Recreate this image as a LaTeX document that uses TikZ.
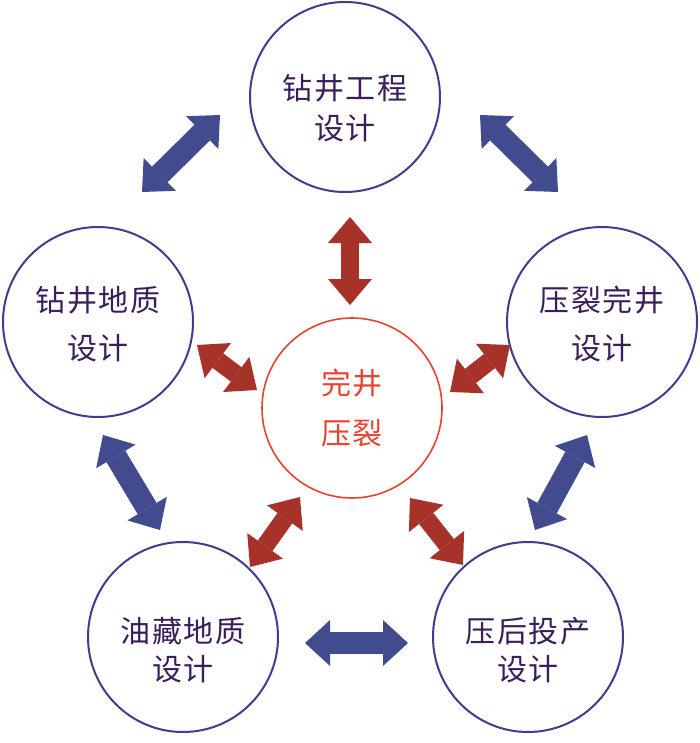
\documentclass[tikz,border=0pt]{standalone}
\usepackage{fontspec}
\newfontfamily\cjk[LetterSpace=6]{Noto Sans CJK SC}
\usetikzlibrary{arrows.meta}

\definecolor{ringblue}{RGB}{62,62,142}
\definecolor{linkblue}{RGB}{67,75,143}
\definecolor{planpurple}{RGB}{58,30,92}
\definecolor{linkred}{RGB}{166,50,42}
\definecolor{ringred}{RGB}{232,67,46}

\begin{document}
\begin{tikzpicture}[x=1pt, y=-1pt,
      plan/.style={circle, draw=ringblue, line width=2pt, minimum size=190pt,
            inner sep=0pt},
      plantext/.style={align=center, text=planpurple, inner sep=0pt,
            font=\cjk\fontsize{30}{#1}\selectfont},
      core/.style={circle, draw=ringred, line width=1.6pt, minimum size=180pt,
            inner sep=0pt, align=center, text=ringred,
            font=\cjk\fontsize{30}{50}\selectfont},
      bluelink/.style={linkblue, line width=22pt,
            {Triangle[width=46pt,length=25pt,line width=0pt]}-{Triangle[width=46pt,length=25pt,line width=0pt]}},
      redlink/.style={linkred, line width=18pt,
            {Triangle[width=44pt,length=26pt,line width=0pt]}-{Triangle[width=44pt,length=26pt,line width=0pt]}}
]
      \useasboundingbox (0,0) rectangle (700,743);

      % circles
      \node[plan, label={[plantext=40, yshift=-11pt]center:钻井工程\\设计}] (drill) at (345,97) {};
      \node[plan, label={[plantext=48, yshift=-2pt]center:钻井地质\\设计}] (geo) at (98,322) {};
      \node[plan, label={[plantext=48, yshift=-2pt]center:压裂完井\\设计}] (frac) at (602,322) {};
      \node[plan, label={[plantext=38, yshift=-13pt]center:油藏地质\\设计}] (res) at (183,637) {};
      \node[plan, label={[plantext=38, yshift=-13pt]center:压后投产\\设计}] (prod) at (528,637) {};
      \node[core] (center) at (352,408) {完井\\压裂};

      % arrow ends
      \coordinate (a1) at (142,192);  \coordinate (a2) at (220,115);
      \coordinate (b1) at (480,115);  \coordinate (b2) at (558,192);
      \coordinate (c1) at (103,435);  \coordinate (c2) at (160,530);
      \coordinate (d1) at (587,435);  \coordinate (d2) at (535,530);
      \coordinate (e1) at (305,643);  \coordinate (e2) at (408,643);

      \coordinate (f1) at (350,217);  \coordinate (f2) at (350,305);
      \coordinate (g1) at (197,345);  \coordinate (g2) at (257,390);
      \coordinate (h1) at (450,392);  \coordinate (h2) at (510,345);
      \coordinate (i1) at (250,567);  \coordinate (i2) at (300,497);
      \coordinate (j1) at (410,498);  \coordinate (j2) at (463,565);

      \draw[bluelink] (a1) -- (a2);
      \draw[bluelink] (b1) -- (b2);
      \draw[bluelink] (c1) -- (c2);
      \draw[bluelink] (d1) -- (d2);
      \draw[bluelink] (e1) -- (e2);

      \draw[redlink] (f1) -- (f2);
      \draw[redlink] (g1) -- (g2);
      \draw[redlink] (h1) -- (h2);
      \draw[redlink] (i1) -- (i2);
      \draw[redlink] (j1) -- (j2);
\end{tikzpicture}
\end{document}
